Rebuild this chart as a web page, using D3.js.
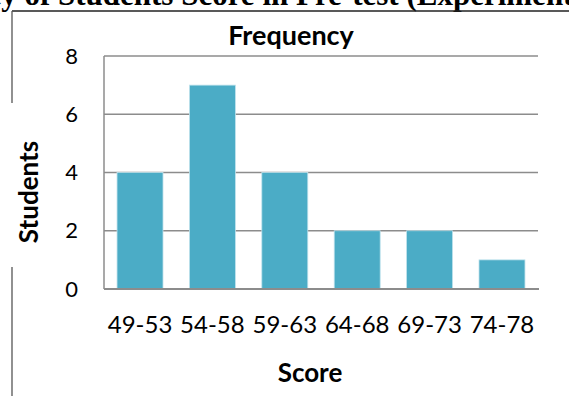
<!DOCTYPE html>
<html>
<head>
<meta charset="utf-8">
<script src="https://cdn.jsdelivr.net/npm/d3@7"></script>
<style>
  html, body { margin: 0; padding: 0; background: #fff; }
  svg { display: block; }
</style>
</head>
<body>
<svg id="chart" width="569" height="396"></svg>
<script>
const categories = ["49-53", "54-58", "59-63", "64-68", "69-73", "74-78"];
const students = [4, 7, 4, 2, 2, 1];
const yTicks = [0, 2, 4, 6, 8];
const chartTitle = "Frequency";
const pageTitle = "Frequency of Students Score in Pre-test (Experimental Class)";
const xTitle = "Score";
const yTitle = "Students";

const svg = d3.select("#chart");
const W = 569, H = 396;
const margin = { left: 104, right: 31, top: 56, bottom: 107 };
const plotW = W - margin.left - margin.right;
const plotH = H - margin.top - margin.bottom;
const font = "Lato, 'Open Sans', sans-serif";
const serif = "'Liberation Serif', 'Times New Roman', serif";

// cropped page title above the chart frame
const prefix = pageTitle.slice(0, pageTitle.indexOf("Students"));
const tmp = svg.append("text")
  .attr("font-family", serif).attr("font-weight", "bold").attr("font-size", 31)
  .attr("xml:space", "preserve").style("white-space", "pre")
  .text(prefix);
const preW = tmp.node().getComputedTextLength();
tmp.remove();
svg.append("text")
  .attr("x", 58 - preW).attr("y", 5)
  .attr("font-family", serif)
  .attr("font-weight", "bold")
  .attr("font-size", 31)
  .attr("fill", "#000")
  .text(pageTitle);

// chart frame (partly visible)
svg.append("line").attr("x1", 12).attr("x2", W).attr("y1", 11).attr("y2", 11)
  .attr("stroke", "#222").attr("stroke-width", 1.3);
svg.append("line").attr("x1", 12).attr("x2", 12).attr("y1", 11).attr("y2", 103)
  .attr("stroke", "#555").attr("stroke-width", 1.3);
svg.append("line").attr("x1", 12).attr("x2", 12).attr("y1", 267).attr("y2", H)
  .attr("stroke", "#555").attr("stroke-width", 1.3);

const x = d3.scaleBand().domain(categories).range([0, plotW]).paddingInner(0.365).paddingOuter(0.18);
const y = d3.scaleLinear().domain([0, 8]).range([plotH, 0]);

const g = svg.append("g").attr("transform", `translate(${margin.left},${margin.top})`);

// gridlines
g.append("g").selectAll("line").data(yTicks.filter(d => d > 0)).join("line")
  .attr("x1", 0).attr("x2", plotW)
  .attr("y1", d => y(d)).attr("y2", d => y(d))
  .attr("stroke", "#8c8c8c").attr("stroke-width", 1.3);

// bars
g.append("g").selectAll("rect").data(students).join("rect")
  .attr("x", (d, i) => x(categories[i]))
  .attr("y", d => y(d))
  .attr("width", x.bandwidth())
  .attr("height", d => y(0) - y(d))
  .attr("fill", "#4BACC6")
  .attr("stroke", "#bfe2ec").attr("stroke-width", 0.8);

// axes lines
g.append("line").attr("x1", 0).attr("x2", 0).attr("y1", 0).attr("y2", plotH)
  .attr("stroke", "#8c8c8c").attr("stroke-width", 1.5);
g.append("line").attr("x1", 0).attr("x2", plotW + 1).attr("y1", plotH).attr("y2", plotH)
  .attr("stroke", "#8c8c8c").attr("stroke-width", 2);

// y axis tick labels
const yAxis = d3.axisLeft(y).tickValues(yTicks).tickSize(0).tickPadding(26);
const ya = g.append("g").call(yAxis);
ya.select(".domain").remove();
ya.selectAll("text").attr("font-family", font).attr("font-size", 22).attr("fill", "#000");

// x axis tick labels
const xAxis = d3.axisBottom(x).tickSize(0);
const xa = g.append("g").attr("transform", `translate(0,${plotH})`).call(xAxis);
xa.select(".domain").remove();
xa.selectAll("text").attr("font-family", font).attr("font-size", 24).attr("fill", "#000")
  .attr("y", 44).attr("dy", 0);

// titles
svg.append("text").attr("x", 291).attr("y", 45).attr("text-anchor", "middle")
  .attr("font-family", font).attr("font-weight", "bold").attr("font-size", 27)
  .text(chartTitle);
svg.append("text").attr("x", 310).attr("y", 382).attr("text-anchor", "middle")
  .attr("font-family", font).attr("font-weight", "bold").attr("font-size", 26)
  .text(xTitle);
svg.append("text").attr("transform", "translate(38,192) rotate(-90)").attr("text-anchor", "middle")
  .attr("font-family", font).attr("font-weight", "bold").attr("font-size", 26)
  .text(yTitle);
</script>
</body>
</html>
